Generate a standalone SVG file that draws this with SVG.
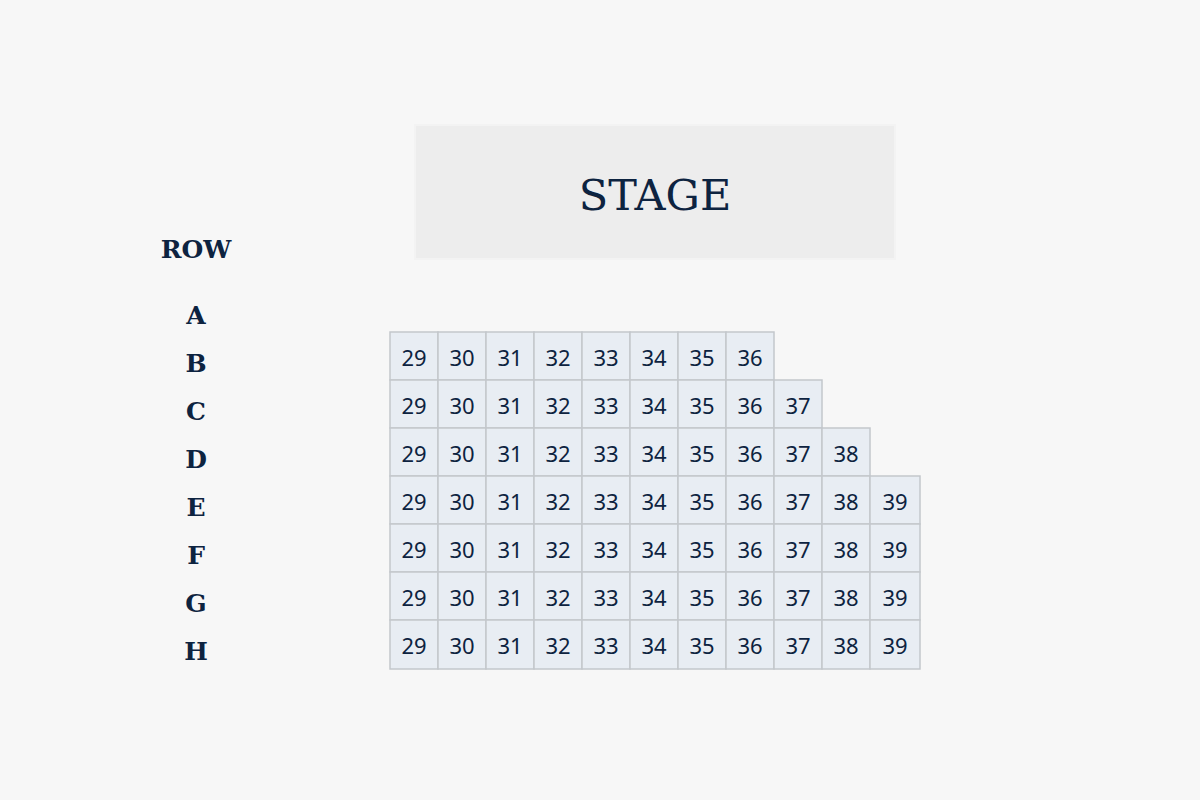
<svg xmlns="http://www.w3.org/2000/svg" width="1200" height="800" viewBox="0 0 1200 800">
<style>
.bg{fill:#f7f7f7}
.stage{fill:#ededed;stroke:#f3f3f3;stroke-width:2}
.stxt{font-family:"DejaVu Serif","Liberation Serif",serif;font-size:43px;fill:#0d2340;text-anchor:middle}
.lbl{font-family:"DejaVu Serif","Liberation Serif",serif;font-weight:bold;font-size:25px;fill:#0d2340;text-anchor:middle}
.seat rect{fill:#e8edf3;stroke:#c3c7cc;stroke-width:1.5}
.seat text{font-family:"Noto Sans","Open Sans",sans-serif;font-size:22px;fill:#0d2340;text-anchor:middle}
</style>
<rect class="bg" x="0" y="0" width="1200" height="800"/>
<g id="stage"><rect class="stage" x="415" y="125" width="480" height="134"/><text class="stxt" x="655" y="210">STAGE</text></g>
<g id="row-labels">
<text class="lbl" x="196" y="258">ROW</text>
<text class="lbl" x="196" y="324">A</text>
<text class="lbl" x="196" y="372">B</text>
<text class="lbl" x="196" y="420">C</text>
<text class="lbl" x="196" y="468">D</text>
<text class="lbl" x="196" y="516">E</text>
<text class="lbl" x="196" y="564">F</text>
<text class="lbl" x="196" y="612">G</text>
<text class="lbl" x="196" y="660">H</text>
</g>
<g id="row-B">
<g class="seat" id="B29"><rect x="390" y="332" width="48" height="48"/><text x="414" y="366">29</text></g>
<g class="seat" id="B30"><rect x="438" y="332" width="48" height="48"/><text x="462" y="366">30</text></g>
<g class="seat" id="B31"><rect x="486" y="332" width="48" height="48"/><text x="510" y="366">31</text></g>
<g class="seat" id="B32"><rect x="534" y="332" width="48" height="48"/><text x="558" y="366">32</text></g>
<g class="seat" id="B33"><rect x="582" y="332" width="48" height="48"/><text x="606" y="366">33</text></g>
<g class="seat" id="B34"><rect x="630" y="332" width="48" height="48"/><text x="654" y="366">34</text></g>
<g class="seat" id="B35"><rect x="678" y="332" width="48" height="48"/><text x="702" y="366">35</text></g>
<g class="seat" id="B36"><rect x="726" y="332" width="48" height="48"/><text x="750" y="366">36</text></g>
</g>
<g id="row-C">
<g class="seat" id="C29"><rect x="390" y="380" width="48" height="48"/><text x="414" y="414">29</text></g>
<g class="seat" id="C30"><rect x="438" y="380" width="48" height="48"/><text x="462" y="414">30</text></g>
<g class="seat" id="C31"><rect x="486" y="380" width="48" height="48"/><text x="510" y="414">31</text></g>
<g class="seat" id="C32"><rect x="534" y="380" width="48" height="48"/><text x="558" y="414">32</text></g>
<g class="seat" id="C33"><rect x="582" y="380" width="48" height="48"/><text x="606" y="414">33</text></g>
<g class="seat" id="C34"><rect x="630" y="380" width="48" height="48"/><text x="654" y="414">34</text></g>
<g class="seat" id="C35"><rect x="678" y="380" width="48" height="48"/><text x="702" y="414">35</text></g>
<g class="seat" id="C36"><rect x="726" y="380" width="48" height="48"/><text x="750" y="414">36</text></g>
<g class="seat" id="C37"><rect x="774" y="380" width="48" height="48"/><text x="798" y="414">37</text></g>
</g>
<g id="row-D">
<g class="seat" id="D29"><rect x="390" y="428" width="48" height="48"/><text x="414" y="462">29</text></g>
<g class="seat" id="D30"><rect x="438" y="428" width="48" height="48"/><text x="462" y="462">30</text></g>
<g class="seat" id="D31"><rect x="486" y="428" width="48" height="48"/><text x="510" y="462">31</text></g>
<g class="seat" id="D32"><rect x="534" y="428" width="48" height="48"/><text x="558" y="462">32</text></g>
<g class="seat" id="D33"><rect x="582" y="428" width="48" height="48"/><text x="606" y="462">33</text></g>
<g class="seat" id="D34"><rect x="630" y="428" width="48" height="48"/><text x="654" y="462">34</text></g>
<g class="seat" id="D35"><rect x="678" y="428" width="48" height="48"/><text x="702" y="462">35</text></g>
<g class="seat" id="D36"><rect x="726" y="428" width="48" height="48"/><text x="750" y="462">36</text></g>
<g class="seat" id="D37"><rect x="774" y="428" width="48" height="48"/><text x="798" y="462">37</text></g>
<g class="seat" id="D38"><rect x="822" y="428" width="48" height="48"/><text x="846" y="462">38</text></g>
</g>
<g id="row-E">
<g class="seat" id="E29"><rect x="390" y="476" width="48" height="48"/><text x="414" y="510">29</text></g>
<g class="seat" id="E30"><rect x="438" y="476" width="48" height="48"/><text x="462" y="510">30</text></g>
<g class="seat" id="E31"><rect x="486" y="476" width="48" height="48"/><text x="510" y="510">31</text></g>
<g class="seat" id="E32"><rect x="534" y="476" width="48" height="48"/><text x="558" y="510">32</text></g>
<g class="seat" id="E33"><rect x="582" y="476" width="48" height="48"/><text x="606" y="510">33</text></g>
<g class="seat" id="E34"><rect x="630" y="476" width="48" height="48"/><text x="654" y="510">34</text></g>
<g class="seat" id="E35"><rect x="678" y="476" width="48" height="48"/><text x="702" y="510">35</text></g>
<g class="seat" id="E36"><rect x="726" y="476" width="48" height="48"/><text x="750" y="510">36</text></g>
<g class="seat" id="E37"><rect x="774" y="476" width="48" height="48"/><text x="798" y="510">37</text></g>
<g class="seat" id="E38"><rect x="822" y="476" width="48" height="48"/><text x="846" y="510">38</text></g>
<g class="seat" id="E39"><rect x="870" y="476" width="50" height="48"/><text x="895" y="510">39</text></g>
</g>
<g id="row-F">
<g class="seat" id="F29"><rect x="390" y="524" width="48" height="48"/><text x="414" y="558">29</text></g>
<g class="seat" id="F30"><rect x="438" y="524" width="48" height="48"/><text x="462" y="558">30</text></g>
<g class="seat" id="F31"><rect x="486" y="524" width="48" height="48"/><text x="510" y="558">31</text></g>
<g class="seat" id="F32"><rect x="534" y="524" width="48" height="48"/><text x="558" y="558">32</text></g>
<g class="seat" id="F33"><rect x="582" y="524" width="48" height="48"/><text x="606" y="558">33</text></g>
<g class="seat" id="F34"><rect x="630" y="524" width="48" height="48"/><text x="654" y="558">34</text></g>
<g class="seat" id="F35"><rect x="678" y="524" width="48" height="48"/><text x="702" y="558">35</text></g>
<g class="seat" id="F36"><rect x="726" y="524" width="48" height="48"/><text x="750" y="558">36</text></g>
<g class="seat" id="F37"><rect x="774" y="524" width="48" height="48"/><text x="798" y="558">37</text></g>
<g class="seat" id="F38"><rect x="822" y="524" width="48" height="48"/><text x="846" y="558">38</text></g>
<g class="seat" id="F39"><rect x="870" y="524" width="50" height="48"/><text x="895" y="558">39</text></g>
</g>
<g id="row-G">
<g class="seat" id="G29"><rect x="390" y="572" width="48" height="48"/><text x="414" y="606">29</text></g>
<g class="seat" id="G30"><rect x="438" y="572" width="48" height="48"/><text x="462" y="606">30</text></g>
<g class="seat" id="G31"><rect x="486" y="572" width="48" height="48"/><text x="510" y="606">31</text></g>
<g class="seat" id="G32"><rect x="534" y="572" width="48" height="48"/><text x="558" y="606">32</text></g>
<g class="seat" id="G33"><rect x="582" y="572" width="48" height="48"/><text x="606" y="606">33</text></g>
<g class="seat" id="G34"><rect x="630" y="572" width="48" height="48"/><text x="654" y="606">34</text></g>
<g class="seat" id="G35"><rect x="678" y="572" width="48" height="48"/><text x="702" y="606">35</text></g>
<g class="seat" id="G36"><rect x="726" y="572" width="48" height="48"/><text x="750" y="606">36</text></g>
<g class="seat" id="G37"><rect x="774" y="572" width="48" height="48"/><text x="798" y="606">37</text></g>
<g class="seat" id="G38"><rect x="822" y="572" width="48" height="48"/><text x="846" y="606">38</text></g>
<g class="seat" id="G39"><rect x="870" y="572" width="50" height="48"/><text x="895" y="606">39</text></g>
</g>
<g id="row-H">
<g class="seat" id="H29"><rect x="390" y="620" width="48" height="49"/><text x="414" y="654">29</text></g>
<g class="seat" id="H30"><rect x="438" y="620" width="48" height="49"/><text x="462" y="654">30</text></g>
<g class="seat" id="H31"><rect x="486" y="620" width="48" height="49"/><text x="510" y="654">31</text></g>
<g class="seat" id="H32"><rect x="534" y="620" width="48" height="49"/><text x="558" y="654">32</text></g>
<g class="seat" id="H33"><rect x="582" y="620" width="48" height="49"/><text x="606" y="654">33</text></g>
<g class="seat" id="H34"><rect x="630" y="620" width="48" height="49"/><text x="654" y="654">34</text></g>
<g class="seat" id="H35"><rect x="678" y="620" width="48" height="49"/><text x="702" y="654">35</text></g>
<g class="seat" id="H36"><rect x="726" y="620" width="48" height="49"/><text x="750" y="654">36</text></g>
<g class="seat" id="H37"><rect x="774" y="620" width="48" height="49"/><text x="798" y="654">37</text></g>
<g class="seat" id="H38"><rect x="822" y="620" width="48" height="49"/><text x="846" y="654">38</text></g>
<g class="seat" id="H39"><rect x="870" y="620" width="50" height="49"/><text x="895" y="654">39</text></g>
</g>
</svg>
